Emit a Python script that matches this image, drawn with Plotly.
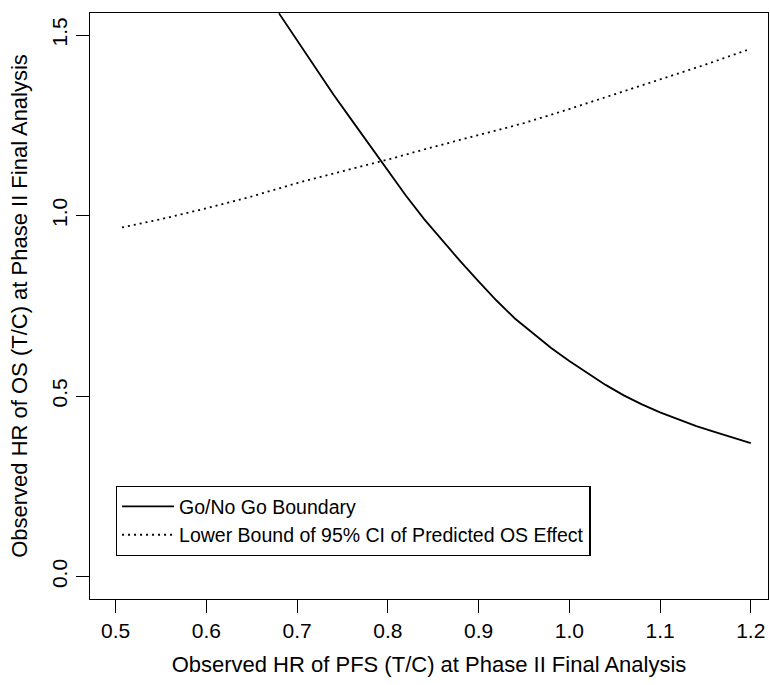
import plotly.graph_objects as go

# Go/No Go boundary (solid)
pfs_boundary = [0.68, 0.70, 0.72, 0.74, 0.76, 0.78, 0.80, 0.82, 0.84, 0.86,
                0.88, 0.90, 0.92, 0.94, 0.96, 0.98, 1.00, 1.02, 1.04, 1.06,
                1.08, 1.10, 1.12, 1.14, 1.16, 1.18, 1.20]
os_boundary = [1.560, 1.485, 1.410, 1.335, 1.265, 1.195, 1.125, 1.055, 0.990, 0.930,
               0.873, 0.818, 0.764, 0.715, 0.673, 0.633, 0.597, 0.563, 0.531, 0.502,
               0.477, 0.455, 0.435, 0.417, 0.401, 0.386, 0.370]

# Lower bound of 95% CI of predicted OS effect (dotted)
pfs_lower = [0.507, 0.550, 0.600, 0.650, 0.700, 0.750, 0.800, 0.850, 0.900, 0.950,
             1.000, 1.050, 1.100, 1.150, 1.200]
os_lower = [0.967, 0.990, 1.020, 1.053, 1.090, 1.122, 1.155, 1.190, 1.222, 1.256,
            1.295, 1.336, 1.376, 1.418, 1.462]

x_ticks = [0.5, 0.6, 0.7, 0.8, 0.9, 1.0, 1.1, 1.2]
x_tick_labels = ["0.5", "0.6", "0.7", "0.8", "0.9", "1.0", "1.1", "1.2"]
y_ticks = [0.0, 0.5, 1.0, 1.5]
y_tick_labels = ["0.0", "0.5", "1.0", "1.5"]

FONT = "Liberation Sans, Arial, Helvetica, sans-serif"
TICK_FS = 21
TITLE_FS = 22
LEGEND_FS = 19.5

fig = go.Figure()
fig.add_trace(go.Scatter(x=pfs_boundary, y=os_boundary, mode="lines",
                         name="Go/No Go Boundary",
                         line=dict(color="black", width=1.8)))
fig.add_trace(go.Scatter(x=pfs_lower, y=os_lower, mode="lines",
                         name="Lower Bound of 95% CI of Predicted OS Effect",
                         line=dict(color="black", width=1.8, dash="2px,4px")))

fig.update_layout(
    width=770, height=685,
    margin=dict(l=90, r=2, t=13, b=86),
    plot_bgcolor="white", paper_bgcolor="white",
    font=dict(family=FONT, size=TICK_FS, color="black"),
    showlegend=True,
    legend=dict(x=0.038, y=0.193, xanchor="left", yanchor="top",
                bordercolor="black", borderwidth=1.3, bgcolor="white",
                font=dict(family=FONT, size=LEGEND_FS, color="black"),
                itemwidth=52, tracegroupgap=0),
)
fig.update_xaxes(range=[0.4717, 1.219], tickvals=x_ticks, ticktext=x_tick_labels,
                 tickfont=dict(size=TICK_FS),
                 ticks="outside", ticklen=13, tickwidth=1.3, tickcolor="black",
                 showline=True, linecolor="black", linewidth=1.3, mirror=True,
                 showgrid=False, zeroline=False,
                 title=dict(text="Observed HR of PFS (T/C) at Phase II Final Analysis",
                            font=dict(size=TITLE_FS), standoff=15))
fig.update_yaxes(range=[-0.062, 1.561], tickvals=y_ticks, ticktext=y_tick_labels,
                 tickfont=dict(size=TICK_FS),
                 ticks="outside", ticklen=13, tickwidth=1.3, tickcolor="black",
                 tickangle=-90,
                 showline=True, linecolor="black", linewidth=1.3, mirror=True,
                 showgrid=False, zeroline=False,
                 title=dict(text="Observed HR of OS (T/C) at Phase II Final Analysis",
                            font=dict(size=TITLE_FS), standoff=14))

fig.write_html("out.html")
